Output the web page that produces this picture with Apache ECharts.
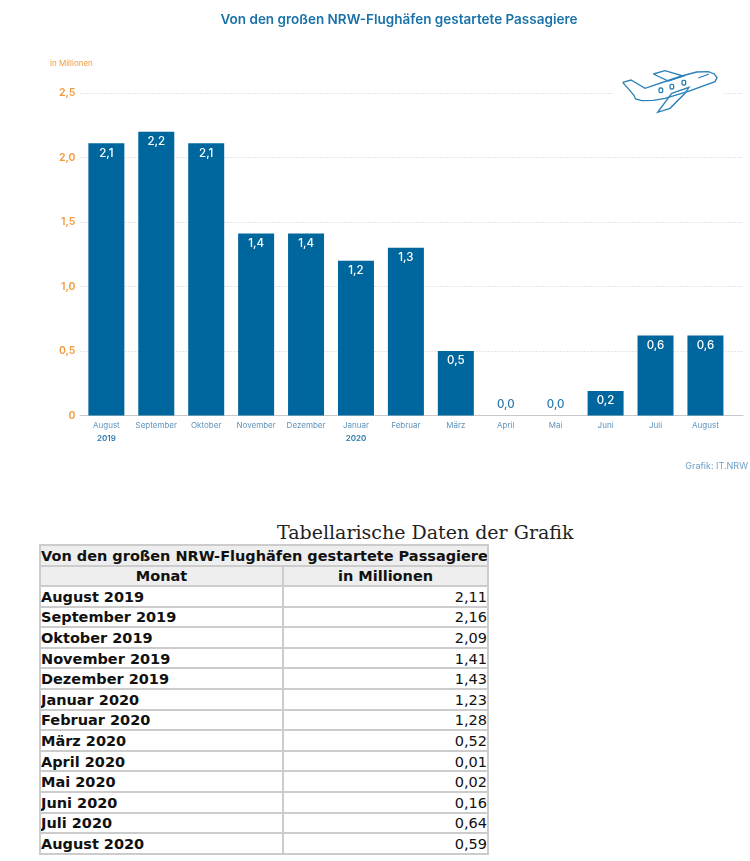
<!DOCTYPE html>
<html lang="de">
<head>
<meta charset="utf-8">
<script src="https://cdn.jsdelivr.net/npm/echarts@6/dist/echarts.min.js"></script>
<style>
html,body{margin:0;padding:0;background:#fff;width:750px;height:861px;overflow:hidden}
#chart{position:absolute;left:0;top:0;width:750px;height:500px}
#tt{position:absolute;left:277px;top:521px;font:19px "DejaVu Serif",serif;color:#222;white-space:nowrap}
#tbl{position:absolute;left:39px;top:544px;width:450px;border-collapse:collapse;table-layout:fixed;font:14.5px/1 "DejaVu Sans",sans-serif;color:#111}
#tbl th,#tbl td{border:2px solid #ccc;height:17.2px;padding:1.4px 0 0 0;box-sizing:content-box;white-space:nowrap;overflow:hidden}
#tbl th{background:#eee;font-weight:bold;text-align:center}
#tbl td.m{font-weight:bold;text-align:left}
#tbl td.v{text-align:right}
</style>
</head>
<body>
<div id="chart"></div>
<div id="tt"></div>
<table id="tbl"></table>
<script>
const title = 'Von den großen NRW-Flughäfen gestartete Passagiere';
const unitLabel = 'in Millionen';
const sourceLabel = 'Grafik: IT.NRW';
const months = ['August','September','Oktober','November','Dezember','Januar','Februar','März','April','Mai','Juni','Juli','August'];
const yearMarks = ['2019','','','','','2020','','','','','','',''];
const drawnValues = [2.11,2.2,2.11,1.41,1.41,1.2,1.3,0.5,0,0,0.19,0.62,0.62];
const tableTitle = 'Tabellarische Daten der Grafik';
const tableHeader = ['Monat','in Millionen'];
const tableMonths = ['August 2019','September 2019','Oktober 2019','November 2019','Dezember 2019','Januar 2020','Februar 2020','März 2020','April 2020','Mai 2020','Juni 2020','Juli 2020','August 2020'];
const tableValues = ['2,11','2,16','2,09','1,41','1,43','1,23','1,28','0,52','0,01','0,02','0,16','0,64','0,59'];

const BLUE='#00669e', ORANGE='#f59a3c', FONT='Inter, "Open Sans", sans-serif';
const comma = v => v.toFixed(1).replace('.', ',');

const chart = echarts.init(document.getElementById('chart'));
const planeStyle = {fill:'none',stroke:'#2a80b9',lineWidth:4};
const planeLines = [
  [[743,247],[768,240],[810,265],[875,243],[920,228],[965,216],[1000,215],[1018,222],[1026,233],[1020,245],[940,274],[870,295],[835,301],[800,302],[782,297],[776,285],[765,272],[743,247]],
  [[835,222],[870,212],[925,228],[880,243],[835,222]],
  [[890,280],[848,337],[885,325],[930,280],[942,262],[890,280]],
  [[970,234],[1002,222]]
];
const planeWindows = [[852,264],[885,253],[921,241]];
chart.setOption({
  animation:false,
  textStyle:{fontFamily:FONT},
  title:[
    {text:title,left:399,top:13,padding:0,textAlign:'center',textStyle:{fontFamily:FONT,fontSize:13.5,fontWeight:600,color:'#1a72a8'}},
    {text:unitLabel,left:50,top:60,padding:0,textStyle:{fontFamily:FONT,fontSize:8,fontWeight:400,color:ORANGE}},
    {text:sourceLabel,right:2,top:462,padding:0,textStyle:{fontFamily:FONT,fontSize:9,fontWeight:400,color:'#6f9fc4'}}
  ],
  grid:[
    {left:81.4,width:649,top:93,height:322.5},
    {left:80,width:663,top:93,height:322.5}
  ],
  xAxis:[
    {type:'category',gridIndex:0,data:months,axisLine:{show:false},axisTick:{show:false},
     axisLabel:{interval:0,margin:4,
       formatter:(v,i)=>yearMarks[i]?`{m|${v}}\n{y|${yearMarks[i]}}`:`{m|${v}}`,
       rich:{m:{fontFamily:FONT,fontSize:8,color:'#5f93bb',lineHeight:13},y:{fontFamily:FONT,fontSize:8,fontWeight:600,color:'#2a78aa',lineHeight:13}}}},
    {type:'value',gridIndex:1,min:0,max:1,axisLine:{show:true,onZero:false,lineStyle:{color:'#c9c9c9',width:1}},axisTick:{show:false},axisLabel:{show:false},splitLine:{show:false}}
  ],
  yAxis:[
    {type:'value',gridIndex:0,min:0,max:2.5,interval:0.5,axisLine:{show:false},axisTick:{show:false},splitLine:{show:false},
     axisLabel:{margin:6,color:ORANGE,fontSize:10.5,fontWeight:600,fontFamily:FONT,formatter:v=>v===0?'0':comma(v)}},
    {type:'value',gridIndex:1,min:0,max:2.5,interval:0.5,axisLine:{show:false},axisTick:{show:false},axisLabel:{show:false},
     splitLine:{show:true,lineStyle:{color:'#e6e6e6',type:[2,1],width:1}}}
  ],
  series:[
    {type:'line',xAxisIndex:1,yAxisIndex:1,data:[],silent:true},
    {type:'bar',xAxisIndex:0,yAxisIndex:0,barWidth:36,z:3,
     data:drawnValues.map(v=>({value:v,
        label:v<0.1?{position:'top',distance:5,color:'#2a78aa'}:{position:'insideTop',distance:4,color:'#fff'}})),
     itemStyle:{color:BLUE},
     label:{show:true,fontFamily:FONT,fontSize:11.5,fontWeight:500,formatter:p=>comma(p.value)}}
  ],
  graphic:[
    {type:'rect',z:20,shape:{x:613,y:86,width:110,height:14},style:{fill:'#fff'}},
    {type:'group',z:21,x:375,y:0,scaleX:1/3,scaleY:1/3,children:[
      ...planeLines.map(points=>({type:'polyline',z:21,shape:{points},style:planeStyle})),
      ...planeWindows.map(([x,y])=>({type:'rect',z:21,shape:{x,y,width:11,height:14,r:4},style:planeStyle}))
    ]}
  ]
});

document.getElementById('tt').textContent = tableTitle;
const tbl = document.getElementById('tbl');
let html = `<colgroup><col style="width:243px"><col></colgroup><tr><th colspan="2">${title}</th></tr><tr><th>${tableHeader[0]}</th><th>${tableHeader[1]}</th></tr>`;
tableMonths.forEach((m,i)=>{html+=`<tr><td class="m">${m}</td><td class="v">${tableValues[i]}</td></tr>`;});
tbl.innerHTML = html;
</script>
</body>
</html>
